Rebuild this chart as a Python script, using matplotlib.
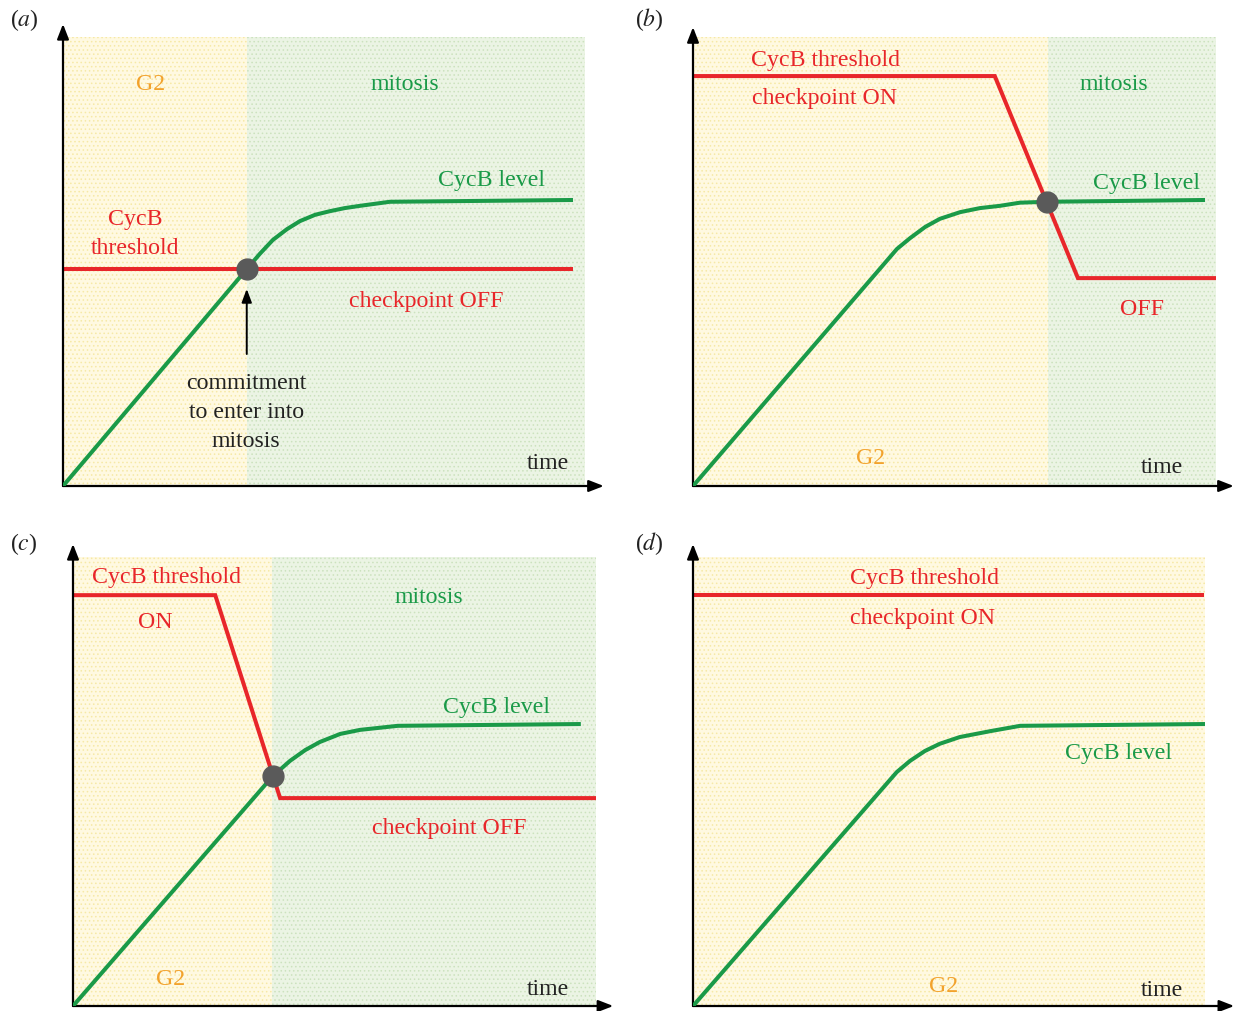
import matplotlib
matplotlib.use("Agg")
import matplotlib.pyplot as plt
from matplotlib.patches import Rectangle

plt.rcParams["font.family"] = ["Liberation Serif", "DejaVu Serif"]
plt.rcParams["mathtext.fontset"] = "stix"
plt.rcParams["hatch.linewidth"] = 0.6

RED = "#E8262A"
GREEN = "#1A9A48"
ORANGE = "#F2A22C"
DOT = "#5A5A5A"
INK = "#222222"
YELLOW_BG = "#FFF9E1"
YELLOW_DOTS = "#F6E9A6"
GREEN_BG = "#EBF4E4"
GREEN_DOTS = "#CCE2BE"

# ---- panel (a): fixed threshold, checkpoint switched off ----
a_cycb_t = [0, 35.2, 37.7, 40.2, 42.9, 45.4, 48.3, 51.1, 54.0, 56.9, 62.6, 97.7]
a_cycb_v = [0, 48.3, 51.7, 54.8, 57.2, 59.0, 60.4, 61.2, 61.9, 62.4, 63.3, 63.7]
a_thr_t = [0, 97.7]
a_thr_v = [48.3, 48.3]
a_g2_end = 35.2
a_commit = (35.2, 48.3)

# ---- panel (b): threshold drops late ----
b_cycb_t = [0, 39.0, 41.5, 44.4, 47.2, 51.1, 54.9, 58.7, 62.5, 67.7, 97.9]
b_cycb_v = [0, 52.8, 55.2, 57.7, 59.5, 61.0, 61.9, 62.4, 63.1, 63.3, 63.7]
b_thr_t = [0, 57.7, 73.6, 100]
b_thr_v = [91.3, 91.3, 46.3, 46.3]
b_g2_end = 67.9
b_commit = (67.7, 63.3)

# ---- panel (c): threshold drops early ----
c_cycb_t = [0, 38.2, 41.5, 44.4, 47.2, 51.1, 54.9, 62.1, 97.1]
c_cycb_v = [0, 51.2, 54.6, 57.0, 58.8, 60.6, 61.5, 62.4, 62.8]
c_thr_t = [0, 27.2, 39.6, 100]
c_thr_v = [91.5, 91.5, 46.3, 46.3]
c_g2_end = 38.0
c_commit = (38.2, 51.2)

# ---- panel (d): threshold stays high, no mitosis ----
d_cycb_t = [0, 39.8, 42.4, 45.3, 48.2, 52.1, 58.0, 63.9, 100]
d_cycb_v = [0, 52.1, 54.6, 56.8, 58.4, 59.9, 61.2, 62.4, 62.8]
d_thr_t = [0, 99.8]
d_thr_v = [91.5, 91.5]
d_g2_end = 100

W, H = 1234, 1012
fig = plt.figure(figsize=(W / 100, H / 100), dpi=100)


def make_axes(x0, y0, x1, y1):
    # pixel box: origin at (x0, y0), upper-right corner at (x1, y1), y measured from top
    return fig.add_axes([x0 / W, 1 - y0 / H, (x1 - x0) / W, (y0 - y1) / H])


def frame(ax, xtip, ytip):
    ax.set_xlim(0, 100)
    ax.set_ylim(0, 100)
    ax.axis("off")
    kw = dict(arrowstyle="-|>,head_length=0.9,head_width=0.35", color="black",
              lw=1.6, shrinkA=0, shrinkB=0)
    ax.annotate("", xy=(xtip, 0), xytext=(0, 0), xycoords="axes fraction",
                arrowprops=kw, annotation_clip=False)
    ax.annotate("", xy=(0, ytip), xytext=(0, 0), xycoords="axes fraction",
                arrowprops=kw, annotation_clip=False)


def shade(ax, g2_end):
    ax.add_patch(Rectangle((0, 0), g2_end, 100, facecolor=YELLOW_BG,
                           edgecolor=YELLOW_DOTS, hatch="....", lw=0, zorder=0))
    if g2_end < 100:
        ax.add_patch(Rectangle((g2_end, 0), 100 - g2_end, 100,
                               facecolor=GREEN_BG, edgecolor=GREEN_DOTS,
                               hatch="....", lw=0, zorder=0))


def txt(ax, x, y, s, color, **kw):
    ax.text(x, y - 0.5, s, color=color, fontsize=17.2, ha="center", va="center", **kw)


LW = 2.9
CURVE = dict(color=GREEN, lw=LW, zorder=3, solid_joinstyle="round", solid_capstyle="butt")
THR = dict(color=RED, lw=LW, zorder=2, solid_joinstyle="miter", solid_capstyle="butt")

# (a)
ax = make_axes(63, 487, 585, 38)
frame(ax, 1.036, 1.029)
shade(ax, a_g2_end)
ax.plot(a_thr_t, a_thr_v, **THR)
ax.plot(a_cycb_t, a_cycb_v, **CURVE)
ax.plot(*a_commit, "o", ms=15, color=DOT, zorder=4)
ax.annotate("", xy=(a_commit[0], 43.9), xytext=(a_commit[0], 29.4),
            arrowprops=dict(arrowstyle="-|>,head_length=0.8,head_width=0.3",
                            color="black", lw=1.4, shrinkA=0, shrinkB=0))
txt(ax, 16.7, 90.2, "G2", ORANGE)
txt(ax, 65.5, 90.2, "mitosis", GREEN)
txt(ax, 82.0, 68.8, "CycB level", GREEN)
txt(ax, 13.8, 56.8, "CycB\nthreshold", RED, linespacing=1.48)
txt(ax, 69.5, 41.9, "checkpoint OFF", RED)
txt(ax, 35.1, 17.1, "commitment\nto enter into\nmitosis", INK, linespacing=1.48)
txt(ax, 92.9, 5.8, "time", INK)

# (b)
ax = make_axes(693, 487, 1216, 38)
frame(ax, 1.034, 1.022)
shade(ax, b_g2_end)
ax.plot(b_thr_t, b_thr_v, **THR)
ax.plot(b_cycb_t, b_cycb_v, **CURVE)
ax.plot(*b_commit, "o", ms=15, color=DOT, zorder=4)
txt(ax, 25.4, 95.5, "CycB threshold", RED)
txt(ax, 25.2, 87.1, "checkpoint ON", RED)
txt(ax, 80.5, 90.2, "mitosis", GREEN)
txt(ax, 86.8, 68.2, "CycB level", GREEN)
txt(ax, 85.9, 40.1, "OFF", RED)
txt(ax, 34.0, 6.9, "G2", ORANGE)
txt(ax, 89.7, 4.9, "time", INK)

# (c)
ax = make_axes(73, 1007, 596, 558)
frame(ax, 1.033, 1.029)
shade(ax, c_g2_end)
ax.plot(c_thr_t, c_thr_v, **THR)
ax.plot(c_cycb_t, c_cycb_v, **CURVE)
ax.plot(*c_commit, "o", ms=15, color=DOT, zorder=4)
txt(ax, 17.8, 96.2, "CycB threshold", RED)
txt(ax, 15.7, 86.2, "ON", RED)
txt(ax, 68.1, 91.8, "mitosis", GREEN)
txt(ax, 80.9, 67.3, "CycB level", GREEN)
txt(ax, 71.9, 40.3, "checkpoint OFF", RED)
txt(ax, 18.7, 6.7, "G2", ORANGE)
txt(ax, 90.8, 4.5, "time", INK)

# (d)
ax = make_axes(693, 1007, 1205, 558)
frame(ax, 1.057, 1.029)
shade(ax, d_g2_end)
ax.plot(d_thr_t, d_thr_v, **THR)
ax.plot(d_cycb_t, d_cycb_v, **CURVE)
txt(ax, 45.3, 96.0, "CycB threshold", RED)
txt(ax, 44.9, 87.1, "checkpoint ON", RED)
txt(ax, 83.2, 57.0, "CycB level", GREEN)
txt(ax, 49.0, 5.1, "G2", ORANGE)
txt(ax, 91.6, 4.2, "time", INK)

# panel letters
for px, py, letter in [(24, 20, "a"), (649, 20, "b"), (24, 544, "c"), (649, 544, "d")]:
    fig.text(px / W, 1 - py / H, r"($%s$)" % letter, fontsize=17, color=INK,
             ha="center", va="center")

fig.savefig("out.png", dpi=100)
